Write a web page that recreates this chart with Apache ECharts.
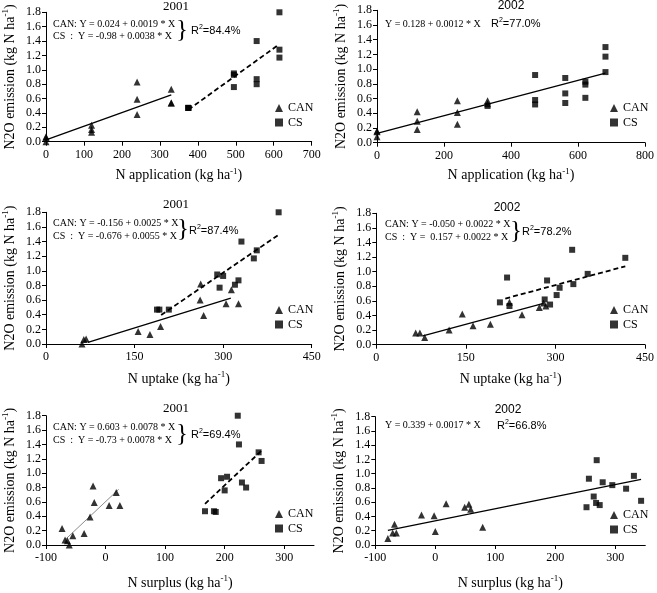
<!DOCTYPE html>
<html><head><meta charset="utf-8">
<script src="https://cdn.jsdelivr.net/npm/echarts@6/dist/echarts.min.js"></script>
<style>html,body{margin:0;padding:0;background:#fff}#c{width:657px;height:593px}</style>
</head><body><div id="c"></div>
<script>
// ---------- DATA ----------
// Panel 1: N application, 2001
const applCan01 = [[0,0.00],[0,0.06],[0,0.07],[120,0.23],[120,0.17],[120,0.13],[240,0.83],[240,0.59],[240,0.38],[330,0.73],[330,0.54],[330,0.54]];
const applCs01  = [[375,0.47],[375,0.47],[375,0.47],[495,0.95],[495,0.93],[495,0.76],[555,1.40],[555,0.87],[555,0.80],[615,1.80],[615,1.28],[615,1.17]];
const applCanFit01 = [[0,0.024],[330,0.651]];
const applCsFit01  = [[375,0.445],[612,1.346]];
// Panel 2: N application, 2002
const applCan02 = [[0,0.08],[0,0.15],[0,0.16],[120,0.42],[120,0.29],[120,0.18],[240,0.57],[240,0.41],[240,0.25],[330,0.57],[330,0.53]];
const applCs02  = [[330,0.50],[472,0.92],[472,0.58],[472,0.52],[562,0.88],[562,0.67],[562,0.54],[622,0.83],[622,0.79],[622,0.61],[682,1.30],[682,1.17],[682,0.96]];
const applFit02 = [[0,0.128],[682,0.946]];
// Panel 3: N uptake, 2001
const uptCan01 = [[61,0.00],[64,0.06],[68,0.07],[156,0.17],[176,0.13],[194,0.24],[261,0.60],[262,0.82],[267,0.39],[305,0.55],[314,0.74],[326,0.55]];
const uptCs01  = [[188,0.47],[192,0.47],[208,0.47],[290,0.95],[294,0.77],[300,0.93],[320,0.81],[326,0.87],[331,1.40],[352,1.17],[357,1.28],[394,1.80]];
const uptCanFit01 = [[71,0.022],[313,0.627]];
const uptCsFit01  = [[195,0.397],[393,1.486]];
// Panel 4: N uptake, 2002
const uptCan02 = [[66,0.16],[73,0.16],[81,0.10],[122,0.20],[144,0.42],[162,0.26],[191,0.28],[223,0.58],[244,0.41],[273,0.51],[280,0.57],[284,0.53]];
const uptCs02  = [[207,0.58],[219,0.92],[223,0.53],[282,0.62],[286,0.88],[291,0.55],[302,0.68],[307,0.78],[328,1.30],[330,0.83],[354,0.97],[417,1.19]];
const uptCanFit02 = [[78,0.122],[280,0.566]];
const uptCsFit02  = [[216,0.632],[417,1.074]];
// Panel 5: N surplus, 2001
const surCan01 = [[-73,0.23],[-68,0.07],[-64,0.06],[-61,0.00],[-55,0.13],[-36,0.16],[-26,0.39],[-21,0.82],[-19,0.59],[6,0.55],[18,0.73],[24,0.55]];
const surCs01  = [[167,0.47],[182,0.47],[185,0.46],[194,0.93],[200,0.76],[204,0.95],[222,1.80],[224,1.40],[229,0.87],[236,0.80],[257,1.29],[262,1.17]];
const surCanFit01 = [[-68,0.073],[22,0.775]];
const surCsFit01  = [[167,0.573],[262,1.314]];
// Panel 6: N surplus, 2002
const surCan02 = [[-79,0.09],[-71,0.17],[-68,0.29],[-65,0.17],[-23,0.42],[-2,0.41],[0,0.19],[18,0.58],[49,0.53],[56,0.57],[59,0.50],[79,0.25]];
const surCs02  = [[252,0.53],[256,0.93],[264,0.68],[268,0.59],[269,1.19],[274,0.56],[279,0.88],[295,0.84],[318,0.79],[331,0.97],[343,0.62]];
const surFit02 = [[-79,0.205],[343,0.922]];

// tick labels
const yTicks = [0,0.2,0.4,0.6,0.8,1.0,1.2,1.4,1.6,1.8];
const applTicks01 = [0,100,200,300,400,500,600,700];
const applTicks02 = [0,200,400,600,800];
const uptTicks = [0,150,300,450];
const surTicks = [-100,0,100,200,300];

// text
const yName = 'N2O emission (kg N ha{sup|-1})';
const xNames = ['N application (kg ha{sup|-1})','N uptake (kg ha{sup|-1})','N surplus (kg ha{sup|-1})'];
const titles = ['2001','2002','2001','2002','2001','2002'];
const eq1 = ['CAN: Y = 0.024 + 0.0019 * X','CS  :  Y = -0.98 + 0.0038 * X'];
const eq2 = ['Y = 0.128 + 0.0012 * X'];
const eq3 = ['CAN: Y = -0.156 + 0.0025 * X','CS  :  Y = -0.676 + 0.0055 * X'];
const eq4 = ['CAN: Y = -0.050 + 0.0022 * X','CS  :  Y =  0.157 + 0.0022 * X'];
const eq5 = ['CAN: Y = 0.603 + 0.0078 * X','CS  :  Y = -0.73 + 0.0078 * X'];
const eq6 = ['Y = 0.339 + 0.0017 * X'];
const r2 = ['84.4%','77.0%','87.4%','78.2%','69.4%','66.8%'];

// ---------- LAYOUT ----------
const SERIF = '"Liberation Serif","Times New Roman",serif';
const SANS = '"Liberation Sans",Arial,sans-serif';

const panels = [
  {grid:[44,12.3,267.7,129.4], x:[0,700,100], xt:applTicks01, xName:xNames[0], xGap:25, title:[176,7,SERIF],
   can:applCan01, cs:applCs01, fits:[[applCanFit01,'solid'],[applCsFit01,'dashed']],
   eq:eq1, eqPos:[53,24,36.7], brace:[182,30.5], r2Pos:[191,30.5], leg:[275,102]},
  {grid:[377,10.3,270.3,132.4], x:[0,800,200], xt:applTicks02, xName:xNames[0], xGap:24, title:[511,6,SANS],
   can:applCan02, cs:applCs02, fits:[[applFit02,'solid']],
   eq:eq2, eqPos:[385,24], brace:null, r2Pos:[491,24], leg:[610,102]},
  {grid:[44,212.3,267.7,131.7], x:[0,450,150], xt:uptTicks, xName:xNames[1], xGap:26, title:[176,205,SERIF],
   can:uptCan01, cs:uptCs01, fits:[[uptCanFit01,'solid'],[uptCsFit01,'dashed']],
   eq:eq3, eqPos:[53,223.3,236.2], brace:[183,229.5], r2Pos:[189,231], leg:[275,304]},
  {grid:[376.3,213.3,271,131.4], x:[0,450,150], xt:uptTicks, xName:xNames[1], xGap:26, title:[507,208,SANS],
   can:uptCan02, cs:uptCs02, fits:[[uptCanFit02,'solid'],[uptCsFit02,'dashed']],
   eq:eq4, eqPos:[385,224.5,237.7], brace:[516,231], r2Pos:[522,231.5], leg:[610,304]},
  {grid:[44,415.7,270,132], x:[-100,350,100], xt:surTicks, xName:xNames[2], xGap:29, title:[176,408.5,SERIF],
   can:surCan01, cs:surCs01, fits:[[surCanFit01,'thin'],[surCsFit01,'dashed']],
   eq:eq5, eqPos:[53,427.3,440.7], brace:[182,434], r2Pos:[191,434.5], leg:[275,508]},
  {grid:[375.3,416.7,270,132.6], x:[-100,350,100], xt:surTicks, xName:xNames[2], xGap:29, title:[508,409.5,SANS],
   can:surCan02, cs:surCs02, fits:[[surFit02,'solid']],
   eq:eq6, eqPos:[385,425.5], brace:null, r2Pos:[497,425.5], leg:[610,509]}
];

const grids=[], xAxes=[], yAxes=[], series=[], legends=[], graphics=[];
const blk = '#000';
panels.forEach((p,i)=>{
  grids.push({left:p.grid[0], top:p.grid[1], width:p.grid[2], height:p.grid[3]});
  xAxes.push({type:'value', gridIndex:i, min:p.x[0], max:p.x[1], interval:p.x[2],
    axisLine:{show:true, onZero:false, lineStyle:{color:blk,width:1}},
    axisTick:{show:true, length:4, lineStyle:{color:blk}, customValues:p.xt},
    axisLabel:{color:blk, fontFamily:SERIF, fontSize:12, margin:7, customValues:p.xt},
    splitLine:{show:false},
    name:p.xName, nameLocation:'middle', nameGap:p.xGap,
    nameTextStyle:{color:blk, fontFamily:SERIF, fontSize:14, lineHeight:18,
      rich:{sup:{fontSize:9, fontFamily:SERIF, color:blk, verticalAlign:'top'}}}
  });
  yAxes.push({type:'value', gridIndex:i, min:0, max:1.8, interval:0.2,
    axisLine:{show:true, onZero:false, lineStyle:{color:blk,width:1}},
    axisTick:{show:true, length:4, lineStyle:{color:blk}},
    axisLabel:{color:blk, fontFamily:SERIF, fontSize:12, margin:5, formatter:v=>v.toFixed(1)},
    splitLine:{show:false},
    name:yName, nameLocation:'middle', nameGap:27,
    nameTextStyle:{color:blk, fontFamily:SERIF, fontSize:14, lineHeight:18,
      rich:{sup:{fontSize:9, fontFamily:SERIF, color:blk, verticalAlign:'top'}}}
  });
  series.push({type:'scatter', name:'CAN', xAxisIndex:i, yAxisIndex:i, data:p.can,
    symbol:'triangle', symbolSize:7, itemStyle:{color:blk}, z:3});
  series.push({type:'scatter', name:'CS', xAxisIndex:i, yAxisIndex:i, data:p.cs,
    symbol:'rect', symbolSize:6, itemStyle:{color:blk}, z:3});
  p.fits.forEach(([d,st])=>{
    const ls = st==='dashed' ? {color:blk,width:1.8,type:[5,3]}
             : st==='thin' ? {color:'#8c8c8c',width:1,type:'solid'}
             : {color:blk,width:1.3,type:'solid'};
    series.push({type:'line', name:'fit', xAxisIndex:i, yAxisIndex:i, data:d,
      symbol:'none', lineStyle:ls, silent:true, z:2});
  });
  legends.push({orient:'vertical', left:p.leg[0], top:p.leg[1], padding:0,
    itemWidth:8, itemHeight:8, itemGap:2.5, selectedMode:false,
    data:[{name:'CAN',icon:'triangle'},{name:'CS',icon:'rect'}],
    textStyle:{color:blk, fontFamily:SERIF, fontSize:12, lineHeight:12}});
  // title
  graphics.push({type:'text', x:p.title[0], y:p.title[1], silent:true,
    style:{text:titles[i], fontFamily:p.title[2], fontSize:p.title[2]===SANS?12:13, fill:blk, align:'center', verticalAlign:'middle'}});
  // equations
  p.eq.forEach((t,k)=>{
    graphics.push({type:'text', x:p.eqPos[0], y:p.eqPos[1+k], silent:true,
      style:{text:t, fontFamily:SERIF, fontSize:10, fill:blk, verticalAlign:'middle'}});
  });
  if(p.brace){
    graphics.push({type:'text', x:p.brace[0], y:p.brace[1], silent:true,
      style:{text:'}', fontFamily:SERIF, fontSize:25, fill:blk, align:'center', verticalAlign:'middle'}});
  }
  graphics.push({type:'text', x:p.r2Pos[0], y:p.r2Pos[1], silent:true,
    style:{text:'R{s|2}='+r2[i], fontFamily:SANS, fontSize:11, fill:blk, verticalAlign:'middle', lineHeight:14,
      rich:{s:{fontSize:7, fontFamily:SANS, fill:blk, verticalAlign:'top'}}}});
});

const chart = echarts.init(document.getElementById('c'), null, {renderer:'canvas'});
chart.setOption({
  animation:false, backgroundColor:'#fff',
  grid:grids, xAxis:xAxes, yAxis:yAxes, series:series, legend:legends,
  graphic:graphics
});
</script></body></html>
